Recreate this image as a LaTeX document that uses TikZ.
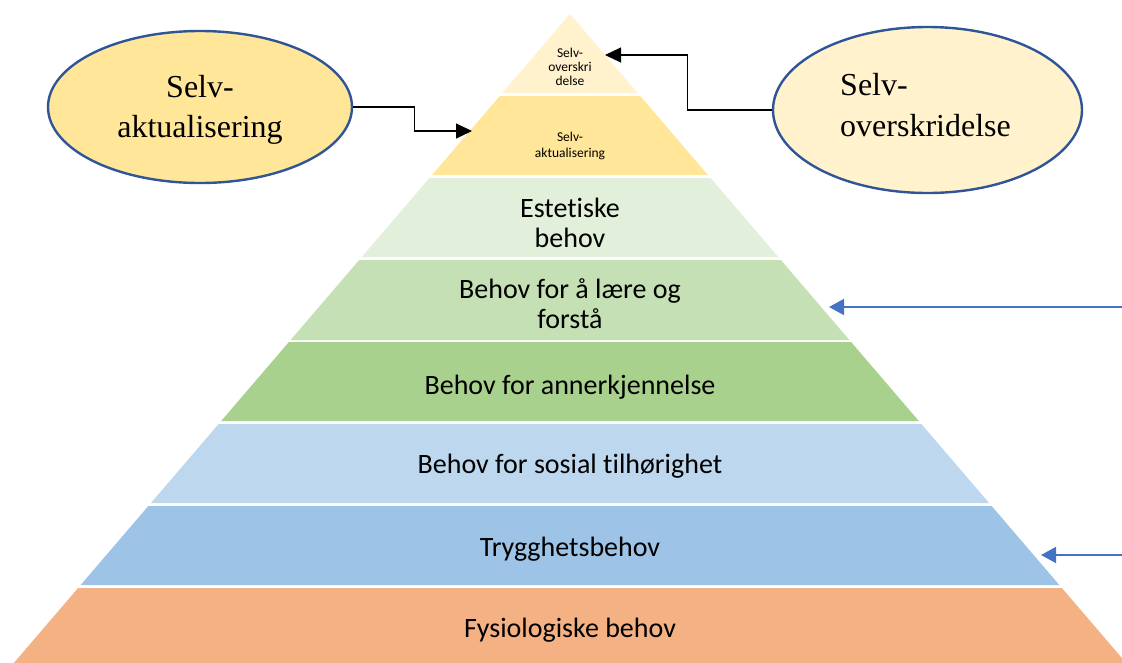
\documentclass[tikz,border=0pt]{standalone}
\usepackage{fontspec}
\setmainfont{Carlito}[Ligatures=NoCommon]
\newfontfamily\bubblefont{Liberation Serif}
\usetikzlibrary{shapes.geometric,arrows.meta}

\definecolor{lvA}{HTML}{FFF2CC}
\definecolor{lvB}{HTML}{FFE699}
\definecolor{lvC}{HTML}{E2EFDA}
\definecolor{lvD}{HTML}{C5E0B4}
\definecolor{lvE}{HTML}{A9D18E}
\definecolor{lvF}{HTML}{BDD7EE}
\definecolor{lvG}{HTML}{9DC3E6}
\definecolor{lvH}{HTML}{F4B183}
\definecolor{rimblue}{HTML}{2F5597}
\definecolor{pointerblue}{HTML}{4472C4}

\begin{document}
\begin{tikzpicture}[x=1pt,y=-1pt,
  layertext/.style={font=\fontsize{28}{30}\selectfont, align=center, anchor=base, inner sep=0},
  tinytext/.style={font=\fontsize{13.5}{14}\selectfont, align=center, anchor=base, inner sep=0},
  bubble/.style={ellipse, draw=rimblue, line width=2.4pt, inner sep=0},
  bubbletext/.style={font=\bubblefont\fontsize{32}{40.5}\selectfont, inner sep=0, anchor=base},
  link/.style={draw=black, line width=1.2pt, -{Triangle[length=16pt,width=15pt]}},
  bluelink/.style={draw=pointerblue, line width=1.5pt, -{Triangle[length=15pt,width=16pt]}}]

\useasboundingbox (0,0) rectangle (1122,662);
\clip (0,0) rectangle (1122,662);

% pyramid bands: apex at (570,14), half width grows 0.857 per unit of depth
\foreach \t/\b/\c in {14/93/lvA, 96/175/lvB, 178/257/lvC, 260/340/lvD,
                      342/421/lvE, 424/503/lvF, 506/585/lvG, 588/690/lvH}{
  \fill[\c] ({570-0.857*(\t-14)},\t) -- ({570+0.857*(\t-14)},\t)
            -- ({570+0.857*(\b-14)},\b) -- ({570-0.857*(\b-14)},\b) -- cycle;
}

% band labels (base anchor sits on the last line)
\node[tinytext] (t1) at (570,85) {Selv-\\overskri\\delse};
\node[tinytext, font=\fontsize{13.5}{16.5}\selectfont] (t2) at (570,157.5) {Selv-\\aktualisering};
\node[layertext] (t3) at (570,247) {Estetiske\\behov};
\node[layertext] (t4) at (570,328) {Behov for å lære og\\forstå};
\node[layertext] (t5) at (570,394) {Behov for annerkjennelse};
\node[layertext] (t6) at (570,473) {Behov for sosial tilhørighet};
\node[layertext] (t7) at (570,556) {Trygghetsbehov};
\node[layertext] (t8) at (570,637) {Fysiologiske behov};

% side bubbles
\node[bubble, fill=lvB, minimum width=304pt, minimum height=152pt] (la) at (200,107) {};
\node[bubbletext, align=center] (lat) at (200,137.5) {Selv-\\aktualisering};
\node[bubble, fill=lvA, minimum width=309pt, minimum height=166pt] (ro) at (927.5,110) {};
\node[bubbletext, align=left, anchor=base west] (rot) at (840,136) {Selv-\\overskridelse};

% elbow connectors into the top bands
\coordinate (tipA) at (472,131);
\coordinate (tipB) at (605,55);
\draw[link] (la.east) -- ++(61,0) |- (tipA);
\draw[link] (ro.west) -- ++(-84,0) |- (tipB);

% pointers from the right margin
\coordinate (p1s) at (1126,307);
\coordinate (p1t) at (829,307);
\coordinate (p2s) at (1126,555);
\coordinate (p2t) at (1041,555);
\draw[bluelink] (p1s) -- (p1t);
\draw[bluelink] (p2s) -- (p2t);
\end{tikzpicture}
\end{document}
